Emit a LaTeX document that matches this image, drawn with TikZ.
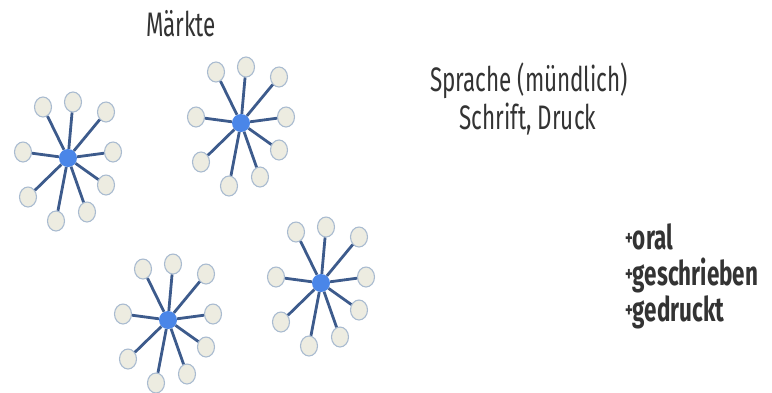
\documentclass[tikz,border=0pt]{standalone}
\usepackage{fontspec}
\setmainfont[FakeStretch=0.66]{Fira Sans}
\usepackage{xcolor}
\usetikzlibrary{shapes.geometric, positioning, calc}
\definecolor{hubblue}{HTML}{4A86E8}
\definecolor{spokeblue}{HTML}{3D5B8C}
\definecolor{leaffill}{HTML}{EDECE1}
\definecolor{leafdraw}{HTML}{A9BBD0}
\definecolor{textgray}{HTML}{333333}

\newcommand{\plusmark}{\raisebox{4pt}{\fontsize{22}{22}\selectfont+}}

\begin{document}
\begin{tikzpicture}[
    x=1pt, y=-1pt,
    hub/.style={circle, fill=hubblue, inner sep=0pt, minimum size=18pt},
    leaf/.style={ellipse, draw=leafdraw, fill=leaffill, line width=1.1pt, inner sep=0pt, minimum width=17pt, minimum height=20pt},
    spoke/.style={draw=spokeblue, line width=2.8pt},
    label/.style={text=textgray, font=\fontsize{34}{40}\selectfont, inner sep=0pt},
    item/.style={text=textgray, font=\bfseries\fontsize{34}{40}\selectfont, inner sep=0pt, anchor=base west}
  ]
    \useasboundingbox (0,0) rectangle (772,392);

    % market hubs
    \node[hub] (m1) at (68,158) {};
    \node[hub] (m2) at (241,123) {};
    \node[hub] (m3) at (168,320) {};
    \node[hub] (m4) at (321,283) {};

    % participants around each market
    \foreach \m in {m1,m2,m3,m4} {
      \foreach \dx/\dy [count=\i] in {-25/-51, 5/-56, 38/-46, -45/-6, 45/-6, 38/27, -40/39, 19/54, -12/63} {
        \node[leaf] (\m-\i) at ($(\m)+(\dx,\dy)$) {};
        \draw[spoke] (\m) -- (\m-\i);
      }
    }

    \node[label] (maerkte) at (181,24) {Märkte};
    \node[label] (sprache) at (529,81) {Sprache (mündlich)};
    \node[label] (schrift) at (528,119) {Schrift, Druck};

    \node[item] (oral) at (625,249) {\plusmark oral};
    \node[item] (geschrieben) at (625,285) {\plusmark geschrieben};
    \node[item] (gedruckt) at (625,321) {\plusmark gedruckt};

  \end{tikzpicture}
\end{document}
